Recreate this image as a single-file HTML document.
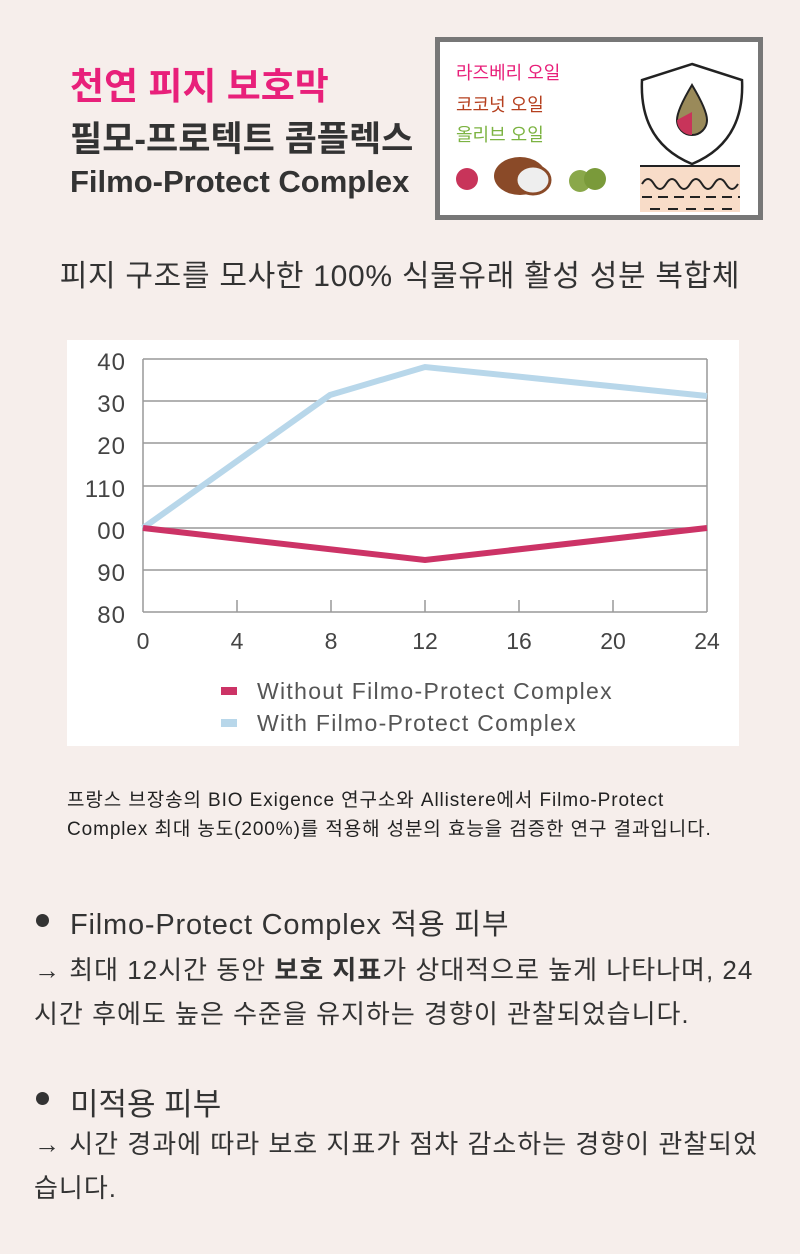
<!DOCTYPE html>
<html><head><meta charset="utf-8"><style>
body{margin:0;width:800px;height:1254px;background:#f6eeeb;position:relative;font-family:"Liberation Sans","Noto Sans CJK KR",sans-serif;color:#333;overflow:hidden}
.a{position:absolute;white-space:nowrap}
</style></head><body>
<div class="a" style="left:70px;top:56px;font-size:37px;font-weight:bold;color:#e8207a">천연 피지 보호막</div>
<div class="a" style="left:70px;top:111px;font-size:35px;font-weight:bold;color:#333">필모-프로텍트 콤플렉스</div>
<div class="a" style="left:70px;top:164px;font-size:31px;font-weight:bold;color:#333">Filmo-Protect Complex</div>
<div class="a" style="left:435px;top:37px;width:318px;height:173px;border:5px solid #777;background:#fff"></div>
<div class="a" style="left:456px;top:59px;font-size:18px;color:#e8207a">라즈베리 오일</div>
<div class="a" style="left:456px;top:91px;font-size:18px;color:#b5401f">코코넛 오일</div>
<div class="a" style="left:456px;top:121px;font-size:18px;color:#7cb342">올리브 오일</div>
<svg class="a" style="left:440px;top:42px" width="313" height="173">
<circle cx="27" cy="137" r="11" fill="#c8345a"/>
<ellipse cx="80" cy="134" rx="26" ry="19" fill="#8a4a28"/><ellipse cx="93" cy="138" rx="17" ry="14" fill="#eee" stroke="#8a4a28" stroke-width="3"/>
<circle cx="140" cy="139" r="11" fill="#8aa84a"/><circle cx="155" cy="137" r="11" fill="#7a9a3a"/>
<path d="M252 22 L302 38 Q305 100 252 122 Q199 100 202 38 Z" fill="none" stroke="#222" stroke-width="2.5"/>
<path d="M252 43 Q237 68 237 78 A15 15 0 0 0 267 78 Q267 68 252 43Z" fill="#9a8a5a" stroke="#222" stroke-width="2"/>
<path d="M237 78 A15 15 0 0 0 252 93 L252 70 Z" fill="#c8345a"/>
<rect x="200" y="124" width="100" height="46" fill="#f8dcc8"/>
<line x1="200" y1="124" x2="300" y2="124" stroke="#222" stroke-width="2"/>
<path d="M202 142 q6 -10 12 0 q6 10 12 0 q6 -10 12 0 q6 10 12 0 q6 -10 12 0 q6 10 12 0 q6 -10 12 0 q6 10 12 0" fill="none" stroke="#222" stroke-width="2"/>
<line x1="202" y1="155" x2="300" y2="155" stroke="#222" stroke-width="2" stroke-dasharray="10 6"/>
<line x1="210" y1="167" x2="295" y2="167" stroke="#222" stroke-width="2" stroke-dasharray="10 8"/>
</svg>
<div class="a" style="left:0;width:800px;text-align:center;top:251px;font-size:30px;letter-spacing:0.7px;color:#333">피지 구조를 모사한 100% 식물유래 활성 성분 복합체</div>
<svg class="a" style="left:67px;top:340px" width="672" height="406">
<rect width="672" height="406" fill="#fff"/>
<g stroke="#999" stroke-width="1.5" fill="none">
<line x1="76" y1="19" x2="640" y2="19"/><line x1="76" y1="61" x2="640" y2="61"/><line x1="76" y1="103" x2="640" y2="103"/><line x1="76" y1="146" x2="640" y2="146"/><line x1="76" y1="188" x2="640" y2="188"/><line x1="76" y1="230" x2="640" y2="230"/><line x1="76" y1="272" x2="640" y2="272"/>
<line x1="76" y1="19" x2="76" y2="272"/><line x1="640" y1="19" x2="640" y2="272"/>
<line x1="170" y1="260" x2="170" y2="272"/><line x1="264" y1="260" x2="264" y2="272"/><line x1="358" y1="260" x2="358" y2="272"/><line x1="452" y1="260" x2="452" y2="272"/><line x1="546" y1="260" x2="546" y2="272"/>
</g>
<polyline points="76,188 263,55 358,27 640,56" fill="none" stroke="#b8d7ea" stroke-width="6"/>
<polyline points="76,188 358,220 640,188" fill="none" stroke="#cc3366" stroke-width="6"/>
<g font-family="Liberation Sans,sans-serif" font-size="24" fill="#444" text-anchor="end" letter-spacing="1">
<text x="59" y="30">40</text><text x="59" y="72">30</text><text x="59" y="114">20</text><text x="59" y="157">110</text><text x="59" y="199">00</text><text x="59" y="241">90</text><text x="59" y="283">80</text>
</g>
<g font-family="Liberation Sans,sans-serif" font-size="23" fill="#444" text-anchor="middle">
<text x="76" y="309">0</text><text x="170" y="309">4</text><text x="264" y="309">8</text><text x="358" y="309">12</text><text x="452" y="309">16</text><text x="546" y="309">20</text><text x="640" y="309">24</text>
</g>
<rect x="154" y="347" width="16" height="8" fill="#cc3366"/>
<rect x="154" y="379" width="16" height="8" fill="#b8d7ea"/>
<g font-family="Liberation Sans,sans-serif" font-size="23" fill="#555" letter-spacing="1.3">
<text x="190" y="359">Without Filmo-Protect Complex</text><text x="190" y="391">With Filmo-Protect Complex</text>
</g>
</svg>
<div class="a" style="left:67px;top:786px;font-size:19px;letter-spacing:0.9px;line-height:29px;color:#222">프랑스 브장송의 BIO Exigence 연구소와 Allistere에서 Filmo-Protect<br>Complex 최대 농도(200%)를 적용해 성분의 효능을 검증한 연구 결과입니다.</div>
<div class="a" style="left:36px;top:914px;width:13px;height:13px;border-radius:50%;background:#333"></div>
<div class="a" style="left:70px;top:901px;font-size:29px;letter-spacing:0.8px;color:#333">Filmo-Protect Complex 적용 피부</div>
<div class="a" style="left:34px;top:948px;font-size:26px;letter-spacing:1px;line-height:44px;color:#333">→ 최대 12시간 동안 <b>보호 지표</b>가 상대적으로 높게 나타나며, 24<br>시간 후에도 높은 수준을 유지하는 경향이 관찰되었습니다.</div>
<div class="a" style="left:36px;top:1092px;width:13px;height:13px;border-radius:50%;background:#333"></div>
<div class="a" style="left:70px;top:1079px;font-size:31px;color:#333">미적용 피부</div>
<div class="a" style="left:34px;top:1122px;font-size:26px;letter-spacing:1px;line-height:44px;color:#333">→ 시간 경과에 따라 보호 지표가 점차 감소하는 경향이 관찰되었<br>습니다.</div>
</body></html>
